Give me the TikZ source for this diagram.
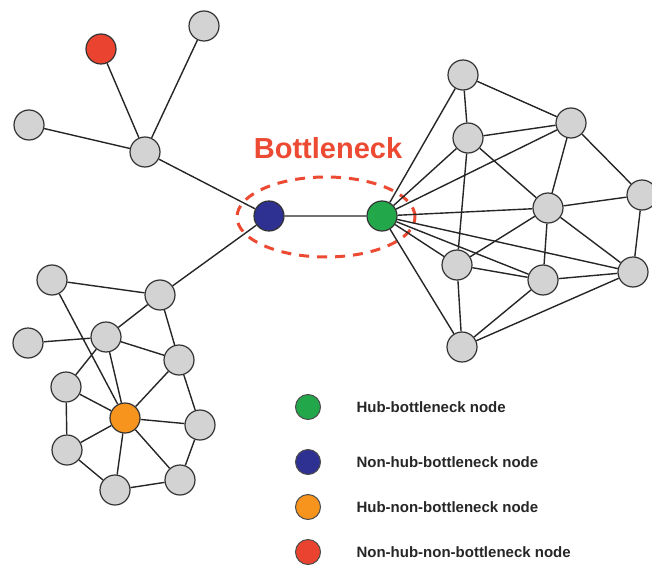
\documentclass[tikz,border=0pt]{standalone}
\usepackage{fontspec}
\setmainfont{Liberation Sans}
\usetikzlibrary{shapes.geometric}
\definecolor{nodegray}{HTML}{D3D3D3}
\definecolor{hubgreen}{HTML}{22A84A}
\definecolor{nhblue}{HTML}{2E3192}
\definecolor{hubor}{HTML}{F7941D}
\definecolor{nhred}{HTML}{EA4430}
\definecolor{bnred}{HTML}{EC4A32}

\begin{document}
\begin{tikzpicture}[x=1pt,y=-1pt,
  edge/.style={draw=black!85, line width=1.4pt},
  gnode/.style={draw=black!80, circle, line width=1.2pt, fill=nodegray, minimum size=30pt, inner sep=0pt},
  cnode/.style={gnode, fill=#1},
  lnode/.style={draw=black!70, circle, line width=1pt, fill=#1, minimum size=25pt, inner sep=0pt},
  ltext/.style={anchor=west, font=\fontsize{15}{18}\selectfont\bfseries, text=black!85}]
        \useasboundingbox (0,0) rectangle (652,564);

        % Top left branch
        \node[cnode=nhred] (red) at (101,49) {};
        \node[gnode] (tl1) at (204,26) {};
        \node[gnode] (tl2) at (29,125) {};
        \node[gnode] (tlhub) at (145,152) {};

        % Bottleneck pair
        \node[cnode=nhblue] (blue) at (269,216) {};
        \node[cnode=hubgreen] (green) at (382,216) {};
        \node[draw=bnred, ellipse, dash pattern=on 10pt off 8pt, line width=3pt,
              minimum width=178pt, minimum height=80pt] (bneck) at (326,217) {};
        \node[text=bnred, font=\fontsize{29}{32}\selectfont\bfseries] (bnlabel) at (328,148) {Bottleneck};

        % Right cluster
        \node[gnode] (ra) at (463,75) {};
        \node[gnode] (rb) at (468,138) {};
        \node[gnode] (rc) at (571,123) {};
        \node[gnode] (rd) at (548,208) {};
        \node[gnode] (re) at (642,195) {};
        \node[gnode] (rf) at (457,265) {};
        \node[gnode] (rg) at (543,280) {};
        \node[gnode] (rh) at (633,272) {};
        \node[gnode] (ri) at (462,347) {};

        % Bottom left cluster
        \node[gnode] (la) at (52,280) {};
        \node[gnode] (lb) at (160,295) {};
        \node[gnode] (lc) at (28,343) {};
        \node[gnode] (ld) at (106,337) {};
        \node[gnode] (le) at (179,360) {};
        \node[gnode] (lf) at (66,387) {};
        \node[cnode=hubor] (orange) at (125,418) {};
        \node[gnode] (lg) at (200,425) {};
        \node[gnode] (lh) at (67,450) {};
        \node[gnode] (li) at (180,480) {};
        \node[gnode] (lj) at (115,490) {};

        % Connections
        \draw[edge] (tlhub) -- (red) (tlhub) -- (tl1) (tlhub) -- (tl2) (tlhub) -- (blue);
        \draw[edge] (blue) -- (green) (blue) -- (lb);
        \draw[edge] (green) -- (ra) (green) -- (rb) (green) -- (rc) (green) -- (rd)
                    (green) -- (rf) (green) -- (rg) (green) -- (rh) (green) -- (ri);
        \draw[edge] (ra) -- (rb) (ra) -- (rc) (rb) -- (rc) (rb) -- (rd) (rb) -- (rf)
                    (rc) -- (rd) (rc) -- (re) (rd) -- (re) (rd) -- (rf) (rd) -- (rg)
                    (rd) -- (rh) (re) -- (rh) (rf) -- (rg) (rf) -- (ri) (rg) -- (rh)
                    (rg) -- (ri) (ri) -- (rh);
        \draw[edge] (la) -- (lb) (la) -- (orange) (lc) -- (ld) (lb) -- (ld) (lb) -- (le)
                    (ld) -- (le) (ld) -- (lf) (ld) -- (orange) (le) -- (orange) (le) -- (lg)
                    (lf) -- (orange) (lf) -- (lh) (orange) -- (lg) (orange) -- (lh)
                    (orange) -- (lj) (orange) -- (li) (lg) -- (li) (lh) -- (lj) (lj) -- (li);

        % Legend
        \node[lnode=hubgreen] (leg1) at (308,407) {};
        \node[lnode=nhblue] (leg2) at (308,462) {};
        \node[lnode=hubor] (leg3) at (308,507) {};
        \node[lnode=nhred] (leg4) at (308,552) {};
        \node[ltext] (txt1) at (353,407) {Hub-bottleneck node};
        \node[ltext] (txt2) at (353,462) {Non-hub-bottleneck node};
        \node[ltext] (txt3) at (353,507) {Hub-non-bottleneck node};
        \node[ltext] (txt4) at (353,552) {Non-hub-non-bottleneck node};
    \end{tikzpicture}
\end{document}
